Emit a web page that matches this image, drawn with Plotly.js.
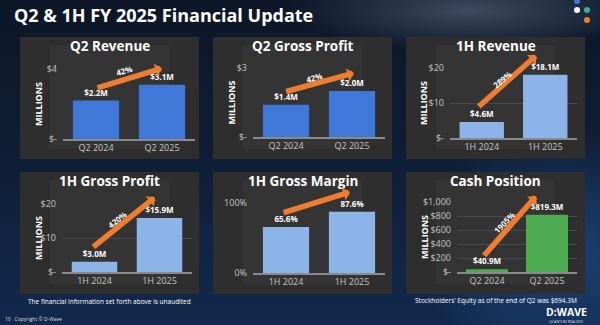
<!DOCTYPE html>
<html>
<head>
<meta charset="utf-8">
<script src="https://cdn.plot.ly/plotly-3.0.1.min.js"></script>
<style>
html,body{margin:0;padding:0;}
body{width:600px;height:325px;overflow:hidden;
background:
 radial-gradient(ellipse 260px 60px at 470px 10px, rgba(150,170,200,0.35), rgba(0,0,0,0) 70%),
 radial-gradient(ellipse 200px 160px at 560px 250px, rgba(40,90,160,0.55), rgba(0,0,0,0) 75%),
 linear-gradient(180deg,#0c1626 0%,#0f1f38 55%,#12294d 100%);}
#chart{width:600px;height:325px;}
</style>
</head>
<body>
<div id="chart"></div>
<script>
// ---- data ----
const catsQ2 = ['Q2 2024', 'Q2 2025'];
const cats1H = ['1H 2024', '1H 2025'];
const q2Revenue = [2.2, 3.1];
const q2GrossProfit = [1.4, 2.0];
const h1Revenue = [4.6, 18.1];
const h1GrossProfit = [3.0, 15.9];
const h1GrossMargin = [0.656, 0.876];
const cashPosition = [40.9, 819.3];
const growthLabels = ['42%', '42%', '289%', '420%', '22%', '1905%'];
const panelTitles = ['Q2 Revenue', 'Q2 Gross Profit', '1H Revenue', '1H Gross Profit', '1H Gross Margin', 'Cash Position'];
const mainTitle = 'Q2 & 1H FY 2025 Financial Update';
const noteLeft = 'The financial information set forth above is unaudited';
const noteRight = "Stockholders' Equity as of the end of Q2 was $694.3M";

const W = 600, H = 325;
const px = v => v / W;
const py = v => 1 - v / H;
const FONT = 'Open Sans, Noto Sans, sans-serif';

const money = v => '$' + v.toFixed(1) + 'M';
const pct = v => (v * 100).toFixed(1) + '%';

const blueDark = '#3f78d9', blueLight = '#8db4e9', green = '#4caa50';

const panels = [
  {cats: catsQ2, vals: q2Revenue, fmt: money, color: blueDark,
   box: [20, 37, 199, 159], plot: [63, 195, 69, 139], range: [0, 4],
   tv: [0, 4], tt: ['$-', '$4'], units: true,
   arrow: {t: [0, 2.9], h: [1.0, 4.05], l: [0.42, 3.9], ang: -16}},
  {cats: catsQ2, vals: q2GrossProfit, fmt: money, color: blueDark,
   box: [213, 37, 392, 159], plot: [253, 385, 68, 137], range: [0, 3],
   tv: [0, 3], tt: ['$-', '$3'], units: true,
   arrow: {t: [-0.02, 1.96], h: [1.03, 2.78], l: [0.42, 2.58], ang: -16}},
  {cats: cats1H, vals: h1Revenue, fmt: money, color: blueLight,
   box: [406, 37, 585, 159], plot: [450, 577, 68, 138], range: [0, 20],
   tv: [0, 10, 20], tt: ['$-', '$10', '$20'], units: true,
   arrow: {t: [-0.07, 8.6], h: [0.86, 23.6], l: [0.32, 16.6], ang: -39}},
  {cats: cats1H, vals: h1GrossProfit, fmt: money, color: blueLight,
   box: [20, 172, 199, 294], plot: [62, 192, 204, 272], range: [0, 20],
   tv: [0, 10, 20], tt: ['$-', '$10', '$20'], units: true,
   arrow: {t: [-0.04, 7.06], h: [0.93, 22.0], l: [0.35, 15.3], ang: -38}},
  {cats: cats1H, vals: h1GrossMargin, fmt: pct, color: blueLight,
   box: [213, 172, 392, 294], plot: [253, 385, 203, 273], range: [0, 1],
   tv: [0, 1], tt: ['0%', '100%'], units: false,
   arrow: {t: [-0.06, 0.857], h: [0.97, 1.157], l: [0.36, 1.086], ang: -17}},
  {cats: catsQ2, vals: cashPosition, fmt: money, color: green,
   box: [406, 172, 585, 294], plot: [457, 577, 202, 272], range: [0, 1000],
   tv: [0, 200, 400, 600, 800, 1000], tt: ['$-', '$200', '$400', '$600', '$800', '$1,000'], units: true,
   arrow: {t: [-0.07, 214], h: [0.82, 1085], l: [0.28, 714], ang: -46}}
];

const data = [];
const layout = {
  width: W, height: H, margin: {l: 0, r: 0, t: 0, b: 0},
  paper_bgcolor: 'rgba(0,0,0,0)', plot_bgcolor: 'rgba(0,0,0,0)',
  showlegend: false, bargap: 0.3,
  font: {family: FONT, color: '#ffffff'},
  shapes: [], annotations: []
};

panels.forEach((p, i) => {
  const n = i + 1;
  const xa = 'x' + (n === 1 ? '' : n), ya = 'y' + (n === 1 ? '' : n);
  const xk = 'xaxis' + (n === 1 ? '' : n), yk = 'yaxis' + (n === 1 ? '' : n);
  data.push({
    type: 'bar', x: p.cats, y: p.vals, xaxis: xa, yaxis: ya,
    marker: {color: p.color, line: {width: 0}},
    text: p.vals.map(p.fmt), textposition: 'outside', cliponaxis: false,
    textfont: {family: FONT, size: 8, color: '#ffffff', weight: 'bold'},
    hoverinfo: 'skip'
  });
  layout[xk] = {
    domain: [px(p.plot[0]), px(p.plot[1])], anchor: ya, type: 'category',
    showgrid: false, zeroline: false, showline: true, linecolor: '#8a8a8a', linewidth: 1.5,
    ticks: '', tickfont: {family: FONT, size: 9, color: '#c4c4c4'}, fixedrange: true
  };
  layout[yk] = {
    domain: [py(p.plot[3]), py(p.plot[2])], anchor: xa, range: p.range,
    tickvals: p.tv, ticktext: p.tt, showgrid: true, gridcolor: '#4a4a4a', gridwidth: 1,
    zeroline: false, showline: false, ticks: '', ticklabelstandoff: 5,
    tickfont: {family: FONT, size: 9, color: '#c4c4c4'}, fixedrange: true
  };
  // panel background
  layout.shapes.push({
    type: 'rect', xref: 'paper', yref: 'paper', layer: 'below',
    x0: px(p.box[0]), x1: px(p.box[2]), y0: py(p.box[3]), y1: py(p.box[1]),
    fillcolor: '#2e2e2e', line: {width: 0}
  });
  layout.shapes.push({
    type: 'rect', xref: 'paper', yref: 'paper', layer: 'below',
    x0: px(p.box[0] + 30), x1: px(p.box[2] - 30), y0: py(p.box[3] - 10), y1: py(p.box[1] + 8),
    fillcolor: 'rgba(70,70,70,0.25)', line: {width: 0}
  });
  // panel title
  layout.annotations.push({
    xref: 'paper', yref: 'paper', x: px((p.box[0] + p.box[2]) / 2), y: py(p.box[1] + 9),
    text: '<b>' + panelTitles[i] + '</b>', showarrow: false, xanchor: 'center', yanchor: 'middle',
    font: {family: FONT, size: 13.5, color: '#ffffff'}
  });
  if (p.units) {
    layout.annotations.push({
      xref: 'paper', yref: 'paper', x: px(p.box[0] + 18), y: py((p.plot[2] + p.plot[3]) / 2),
      text: '<b>MILLIONS</b>', textangle: -90, showarrow: false, xanchor: 'center', yanchor: 'middle',
      font: {family: FONT, size: 9, color: '#ffffff'}
    });
  }
  // growth arrow
  layout.annotations.push({
    xref: xa, yref: ya, axref: xa, ayref: ya,
    x: p.arrow.h[0], y: p.arrow.h[1], ax: p.arrow.t[0], ay: p.arrow.t[1],
    text: '', showarrow: true, arrowhead: 1, arrowsize: 0.4, arrowwidth: 5.5, arrowcolor: '#ee7d2f'
  });
  layout.annotations.push({
    xref: xa, yref: ya, x: p.arrow.l[0], y: p.arrow.l[1],
    text: '<b>' + growthLabels[i] + '</b>', showarrow: false, textangle: p.arrow.ang,
    font: {family: FONT, size: 8, color: '#ffffff'}
  });
});

// main title and footers
layout.annotations.push(
  {xref: 'paper', yref: 'paper', x: px(12), y: py(15), xanchor: 'left', yanchor: 'middle',
   text: '<b>' + mainTitle + '</b>', showarrow: false, font: {family: FONT, size: 18, color: '#ffffff'}},
  {xref: 'paper', yref: 'paper', x: px(110), y: py(301), xanchor: 'center', yanchor: 'middle',
   text: noteLeft, showarrow: false, font: {family: FONT, size: 6.5, color: '#ffffff'}},
  {xref: 'paper', yref: 'paper', x: px(496), y: py(300), xanchor: 'center', yanchor: 'middle',
   text: noteRight, showarrow: false, font: {family: FONT, size: 6.5, color: '#ffffff'}},
  {xref: 'paper', yref: 'paper', x: px(3), y: py(319), xanchor: 'left', yanchor: 'middle',
   text: '10   Copyright © D-Wave', showarrow: false, font: {family: FONT, size: 5, color: '#dddddd'}},
  {xref: 'paper', yref: 'paper', x: px(566), y: py(312), xanchor: 'center', yanchor: 'middle',
   text: '<b>D:WAVE</b>', showarrow: false, font: {family: FONT, size: 10.5, color: '#ffffff'}},
  {xref: 'paper', yref: 'paper', x: px(566), y: py(321.5), xanchor: 'center', yanchor: 'middle',
   text: 'QUANTUM REALIZED', showarrow: false, font: {family: FONT, size: 3.5, color: '#dddddd'}}
);
// logo dots
[[577, 1, '#3c78d8'], [577, 10, '#ffffff'], [587, 10, '#2bb5a8'], [587, 20, '#ee7d2f']].forEach(d => {
  layout.shapes.push({type: 'circle', xref: 'paper', yref: 'paper', layer: 'above',
    x0: px(d[0] - 3), x1: px(d[0] + 3), y0: py(d[1] + 3), y1: py(d[1] - 3),
    fillcolor: d[2], line: {width: 0}});
});

Plotly.newPlot('chart', data, layout, {staticPlot: true, displayModeBar: false});
</script>
</body>
</html>
